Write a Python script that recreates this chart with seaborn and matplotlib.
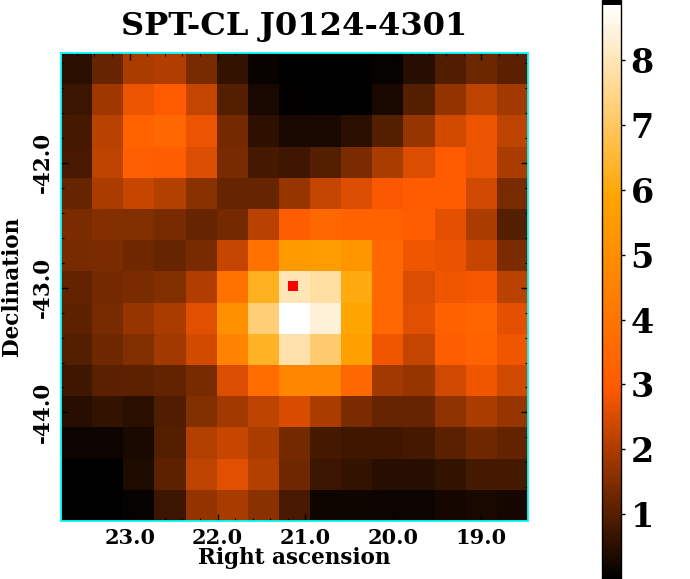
import numpy as np
import seaborn as sns
import matplotlib.pyplot as plt
from matplotlib.colors import LinearSegmentedColormap

# map values, top row first, left column first
row00 = [0.5, 1.2, 2.0, 2.05, 1.4, 0.6, 0.12, 0.03, 0.02, 0.01, 0.08, 0.45, 0.95, 1.25, 1.05]
row01 = [0.7, 1.85, 2.75, 2.95, 2.25, 1.0, 0.3, 0.06, 0.03, 0.03, 0.3, 1.0, 1.7, 2.2, 1.9]
row02 = [0.8, 2.15, 3.3, 3.5, 2.75, 1.35, 0.55, 0.3, 0.3, 0.5, 1.0, 1.75, 2.45, 2.75, 2.2]
row03 = [0.85, 2.2, 3.15, 3.1, 2.55, 1.4, 0.8, 0.75, 1.0, 1.45, 2.0, 2.55, 2.95, 2.75, 2.0]
row04 = [1.2, 2.0, 2.3, 2.1, 1.6, 1.2, 1.2, 1.75, 2.25, 2.55, 2.9, 3.0, 3.0, 2.4, 1.4]
row05 = [1.45, 1.55, 1.5, 1.4, 1.2, 1.35, 2.15, 3.1, 3.5, 3.3, 3.3, 3.05, 2.65, 2.0, 1.0]
row06 = [1.4, 1.45, 1.3, 1.2, 1.4, 2.25, 3.9, 5.5, 5.6, 5.3, 3.5, 2.8, 2.7, 2.3, 1.45]
row07 = [1.15, 1.35, 1.45, 1.5, 2.05, 3.9, 6.25, 8.0, 7.75, 6.05, 3.5, 2.55, 2.8, 2.85, 2.15]
row08 = [1.1, 1.4, 1.75, 2.0, 2.6, 5.1, 7.25, 8.85, 8.4, 5.9, 3.5, 2.6, 3.2, 3.4, 2.65]
row09 = [1.0, 1.3, 1.5, 1.9, 2.45, 4.5, 6.3, 7.85, 7.15, 5.7, 2.8, 2.25, 3.1, 3.3, 2.8]
row10 = [0.75, 1.05, 1.1, 1.15, 1.4, 2.55, 3.7, 4.7, 4.7, 3.5, 1.9, 1.75, 2.4, 2.8, 2.4]
row11 = [0.45, 0.6, 0.5, 0.95, 1.5, 1.9, 2.2, 2.5, 2.0, 1.45, 1.2, 1.2, 1.65, 2.0, 1.75]
row12 = [0.15, 0.15, 0.3, 1.0, 2.1, 2.3, 2.0, 1.35, 0.8, 0.75, 0.75, 0.8, 1.05, 1.3, 1.15]
row13 = [0.02, 0.02, 0.35, 1.1, 2.2, 2.6, 2.1, 1.3, 0.7, 0.6, 0.45, 0.45, 0.6, 0.8, 0.8]
row14 = [0.0, 0.0, 0.1, 0.7, 1.7, 1.95, 1.6, 0.85, 0.2, 0.2, 0.15, 0.15, 0.25, 0.3, 0.25]

ra_ticks = [23.0, 22.0, 21.0, 20.0, 19.0]
dec_ticks = [-42.0, -43.0, -44.0]
cbar_ticks = [1, 2, 3, 4, 5, 6, 7, 8]
cluster_ra = 21.14
cluster_dec = -42.99

# sky window of the map
ra_left, ra_right = 23.78, 18.47
dec_top, dec_bottom = -41.12, -44.87

plt.rcParams['font.family'] = ['DejaVu Serif']
plt.rcParams['font.weight'] = 'bold'

W, H = 690, 579
data = np.array([row00, row01, row02, row03, row04, row05, row06, row07,
                 row08, row09, row10, row11, row12, row13, row14])
cmap = LinearSegmentedColormap.from_list('sz', ['black', '#ff5a00', 'orange', 'white'], N=256)
cmap = cmap.with_extremes(over='black')


def ra_pos(ra):
    return (ra_left - np.asarray(ra)) / (ra_left - ra_right) * data.shape[1]


def dec_pos(dec):
    return (dec_top - np.asarray(dec)) / (dec_top - dec_bottom) * data.shape[0]


fig = plt.figure(figsize=(W / 100, H / 100), dpi=100)
ax = fig.add_axes([61 / W, 1 - 521 / H, 467 / W, 468 / H])
cax = fig.add_axes([602 / W, 0, 19 / W, 1])

sns.heatmap(data, ax=ax, cbar_ax=cax, cmap=cmap, vmin=0, vmax=8.85,
            xticklabels=False, yticklabels=False,
            cbar_kws={'extend': 'max', 'extendrect': True, 'extendfrac': 0.009})

# ticks in sky coordinates
ax.set_xticks(ra_pos(ra_ticks))
ax.set_xticklabels(['%.1f' % v for v in ra_ticks], fontsize=15, fontweight='bold')
ax.set_yticks(dec_pos(dec_ticks))
ax.set_yticklabels(['%.1f' % v for v in dec_ticks], fontsize=15.5, fontweight='bold',
                   rotation=90, va='center')
ra_minor = np.arange(18.6, 23.8, 0.2)
dec_minor = np.arange(-44.8, -41.1, 0.2)
ax.set_xticks(ra_pos(ra_minor), minor=True)
ax.set_yticks(dec_pos(dec_minor), minor=True)
ax.tick_params(axis='x', which='major', direction='in', length=5, width=1, color='black',
               top=True, bottom=True, pad=5)
ax.tick_params(axis='y', which='major', direction='in', length=5, width=1, color='black',
               left=True, right=True, pad=5)
ax.tick_params(which='minor', direction='in', length=2.5, width=0.8, color='black',
               top=True, right=True, bottom=True, left=True)

for side in ax.spines.values():
    side.set_visible(True)
    side.set_color('cyan')
    side.set_linewidth(1.3)

ax.plot(ra_pos(cluster_ra), dec_pos(cluster_dec), 's', color='red', markersize=6.5,
        markeredgewidth=0)

fig.text(294.5 / W, 1 - 26 / H, 'SPT-CL J0124-4301', fontsize=23.1, fontweight='bold',
         ha='center', va='center')
fig.text(294 / W, 1 - 558 / H, 'Right ascension', fontsize=15.5, fontweight='bold',
         ha='center', va='center')
fig.text(12 / W, 1 - 286 / H, 'Declination', fontsize=15.5, fontweight='bold',
         ha='center', va='center', rotation=90)

cbar = ax.collections[0].colorbar
cbar.set_ticks(cbar_ticks)
cbar.ax.tick_params(length=3, width=1, labelsize=24, pad=4, color='black')
cbar.ax.minorticks_off()
for lab in cbar.ax.get_yticklabels():
    lab.set_fontweight('bold')
cbar.outline.set_linewidth(1)
cbar.outline.set_edgecolor('black')

fig.savefig('out.png', dpi=100)
